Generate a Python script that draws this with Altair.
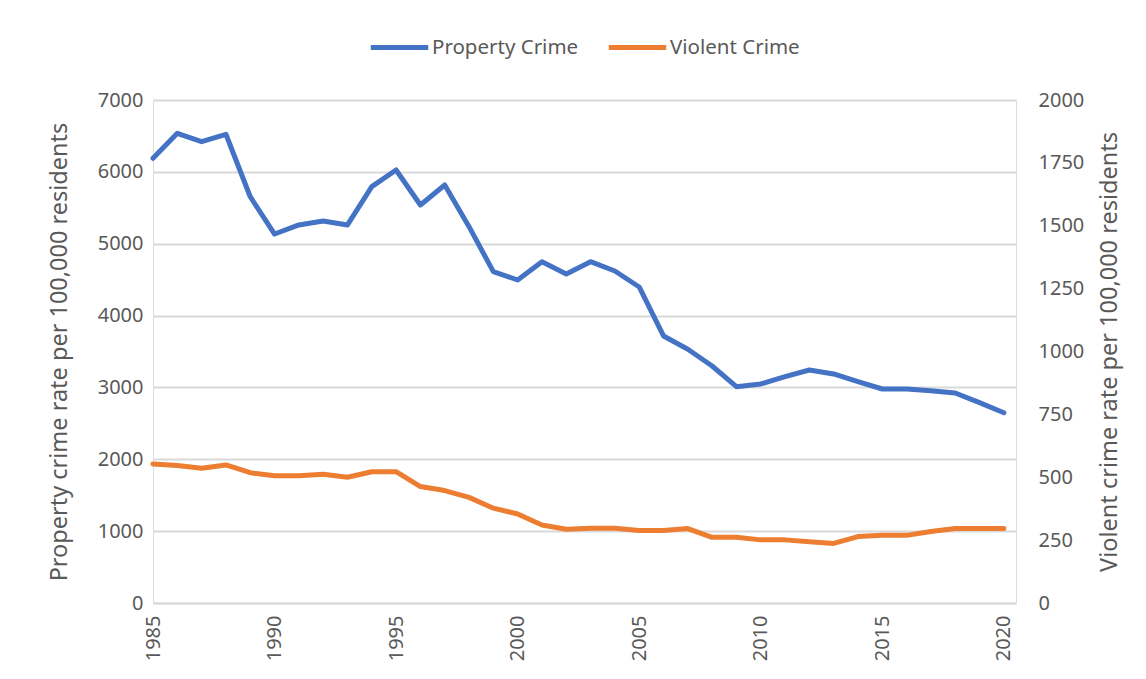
import altair as alt
import pandas as pd

years = list(range(1985, 2021))
property_crime = [6189, 6537, 6420, 6523, 5654, 5135, 5261, 5316, 5261, 5794,
                  6026, 5539, 5817, 5237, 4611, 4495, 4750, 4579, 4750, 4620,
                  4398, 3716, 3531, 3298, 3010, 3048, 3149, 3243, 3187, 3080,
                  2978, 2978, 2955, 2922, 2788, 2648]
violent_crime = [553, 547, 536, 549, 518, 506, 506, 512, 500, 522,
                 522, 463, 447, 420, 377, 354, 310, 293, 297, 297,
                 288, 288, 296, 261, 261, 251, 251, 244, 237, 264,
                 269, 269, 284, 296, 296, 296]
series_names = ["Property Crime", "Violent Crime"]
series_colors = ["#4472C4", "#ED7D31"]
x_ticks = [1985, 1990, 1995, 2000, 2005, 2010, 2015, 2020]
left_ticks = [0, 1000, 2000, 3000, 4000, 5000, 6000, 7000]
right_ticks = [0, 250, 500, 750, 1000, 1250, 1500, 1750, 2000]

df = pd.DataFrame({
    "year": years * 2,
    "series": [series_names[0]] * len(years) + [series_names[1]] * len(years),
    "value": property_crime + violent_crime,
})

FONT = "Noto Sans"
GRAY = "#595959"

x_enc = alt.X("year:Q",
              scale=alt.Scale(domain=[1985, 2020.5], nice=False, zero=False),
              axis=alt.Axis(values=x_ticks, format="d", title=None, labelAngle=270,
                            labelAlign="right", labelBaseline="middle", labelPadding=12,
                            ticks=False, grid=False, domain=True, domainColor="#D9D9D9",
                            domainWidth=2, labelColor=GRAY, labelFontSize=20, labelFont=FONT))

color_enc = alt.Color("series:N",
                      scale=alt.Scale(domain=series_names, range=series_colors),
                      legend=alt.Legend(title=None, orient="none", direction="horizontal",
                                        legendX=215, legendY=-84, symbolType="stroke",
                                        symbolSize=3300, symbolStrokeWidth=5,
                                        labelFontSize=20.5, labelColor=GRAY, labelFont=FONT,
                                        labelOffset=1, columnPadding=19))

left = alt.Chart(df).transform_filter(alt.datum.series == series_names[0]).mark_line(
    strokeWidth=5, strokeJoin="round", strokeCap="round"
).encode(
    x=x_enc,
    y=alt.Y("value:Q", scale=alt.Scale(domain=[0, 7000], nice=False),
            axis=alt.Axis(values=left_ticks, format="d",
                          title="Property crime rate per 100,000 residents",
                          orient="left", ticks=False, domain=False, grid=True,
                          gridColor="#D9D9D9", gridWidth=2, labelPadding=10,
                          labelColor=GRAY, labelFontSize=20, labelFont=FONT,
                          titleColor=GRAY, titleFontSize=23.5, titleFont=FONT,
                          titleFontWeight="normal", titlePadding=26)),
    color=color_enc,
)

right = alt.Chart(df).transform_filter(alt.datum.series == series_names[1]).mark_line(
    strokeWidth=5, strokeJoin="round", strokeCap="round"
).encode(
    x=x_enc,
    y=alt.Y("value:Q", scale=alt.Scale(domain=[0, 2000], nice=False),
            axis=alt.Axis(values=right_ticks, format="d",
                          title="Violent crime rate per 100,000 residents",
                          orient="right", ticks=False, domain=False, grid=False,
                          labelPadding=22, labelColor=GRAY, labelFontSize=20, labelFont=FONT,
                          titleColor=GRAY, titleFontSize=23.5, titleFont=FONT,
                          titleFontWeight="normal", titleAngle=270, titleBaseline="top",
                          titlePadding=14)),
    color=color_enc,
)

chart = alt.layer(left, right).resolve_scale(y="independent").properties(
    width=863, height=503,
    autosize=alt.AutoSizeParams(type="none"),
    padding={"left": 145, "top": 92, "right": 120, "bottom": 70},
).configure_view(stroke=None).configure(background="white")

chart.save("out.html", embed_options={"renderer": "svg", "actions": False})
